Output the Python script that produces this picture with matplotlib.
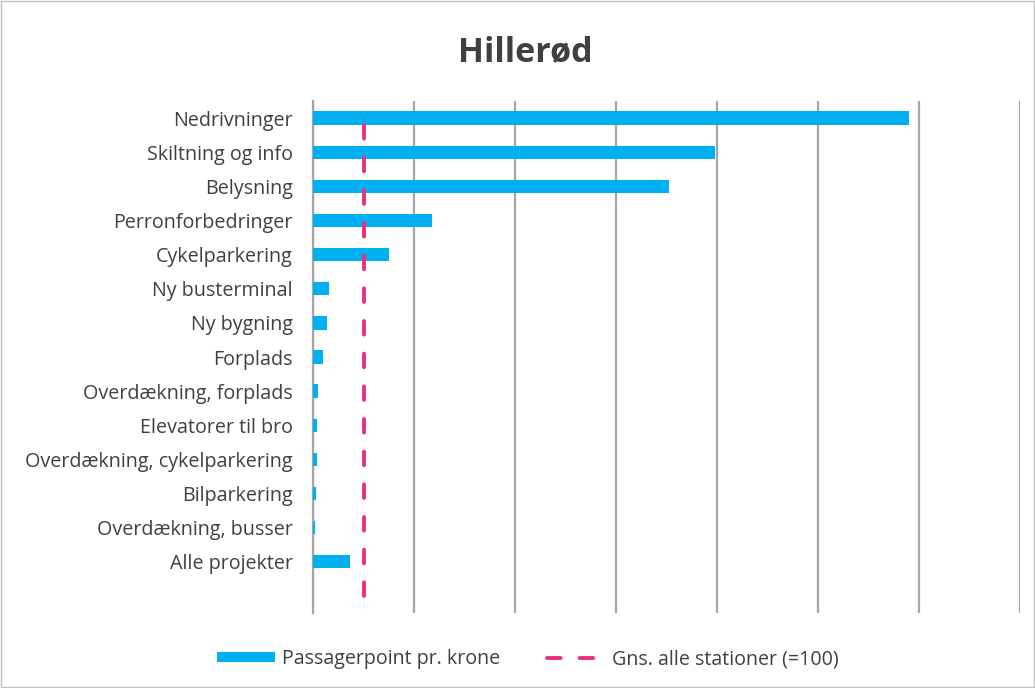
import matplotlib
matplotlib.use("Agg")
import matplotlib.pyplot as plt
from matplotlib.lines import Line2D
from matplotlib.patches import Patch

categories = ["Nedrivninger", "Skiltning og info", "Belysning", "Perronforbedringer",
              "Cykelparkering", "Ny busterminal", "Ny bygning", "Forplads",
              "Overdækning, forplads", "Elevatorer til bro", "Overdækning, cykelparkering",
              "Bilparkering", "Overdækning, busser", "Alle projekter"]
values = [1181, 797, 704, 235, 150, 32, 28, 19, 9, 7, 7, 5, 3, 73]
average = 100
x_max = 1400
x_step = 200

plt.rcParams['font.family'] = ['Open Sans', 'DejaVu Sans']
text_color = "#404040"
grid_color = "#A6A6A6"
pink = "#EC2F7B"
dash = (3.5, 4.9)
lw = 2.8

fig = plt.figure(figsize=(10.35, 6.88), dpi=100)
ax = fig.add_axes([313/1035, 1-613/688, (1020-313)/1035, (613-101)/688])

ypos = list(range(len(categories)))
ax.barh(ypos, values, height=0.39, color="#00B0F0", zorder=3)
ax.set_ylim(len(categories) + 0.5, -0.5)
ax.set_xlim(0, x_max)
ax.set_yticks(ypos)
ax.set_yticklabels(categories, fontsize=14.2, color=text_color)
ax.tick_params(axis='y', length=0, pad=14.5)
ax.set_xticks(range(0, x_max + 1, x_step))
ax.tick_params(axis='x', length=0, labelbottom=False)
ax.grid(axis='x', color=grid_color, linewidth=1.6, zorder=1)
for s in ["top", "right", "bottom"]:
    ax.spines[s].set_visible(False)
ax.spines["left"].set_color(grid_color)
ax.spines["left"].set_linewidth(1.6)

ax.plot([average, average], [0.2, len(categories) + 0.1], color=pink,
        linewidth=lw, dashes=dash, dash_capstyle='round', zorder=4)

fig.text(525/1035, 1-52/688, "Hillerød", ha="center", va="center",
         fontsize=24.5, fontweight="bold", color=text_color)

handles = [Patch(facecolor="#00B0F0", edgecolor="none"),
           Line2D([0], [0], color=pink, linewidth=lw, dashes=dash,
                  dash_capstyle='round')]
fig.legend(handles, ["Passagerpoint pr. krone", "Gns. alle stationer (=100)"],
           loc="center", bbox_to_anchor=(528/1035, 1-659/688), ncol=2,
           frameon=False, fontsize=14.1, labelcolor=text_color,
           handlelength=2.95, handleheight=0.45, columnspacing=2.4, handletextpad=0.36)

border = plt.Rectangle((0.001, 0.001), 0.998, 0.998, transform=fig.transFigure,
                       fill=False, edgecolor="#BFBFBF", linewidth=1)
fig.patches.append(border)

fig.savefig("out.png", dpi=100, facecolor="white")
